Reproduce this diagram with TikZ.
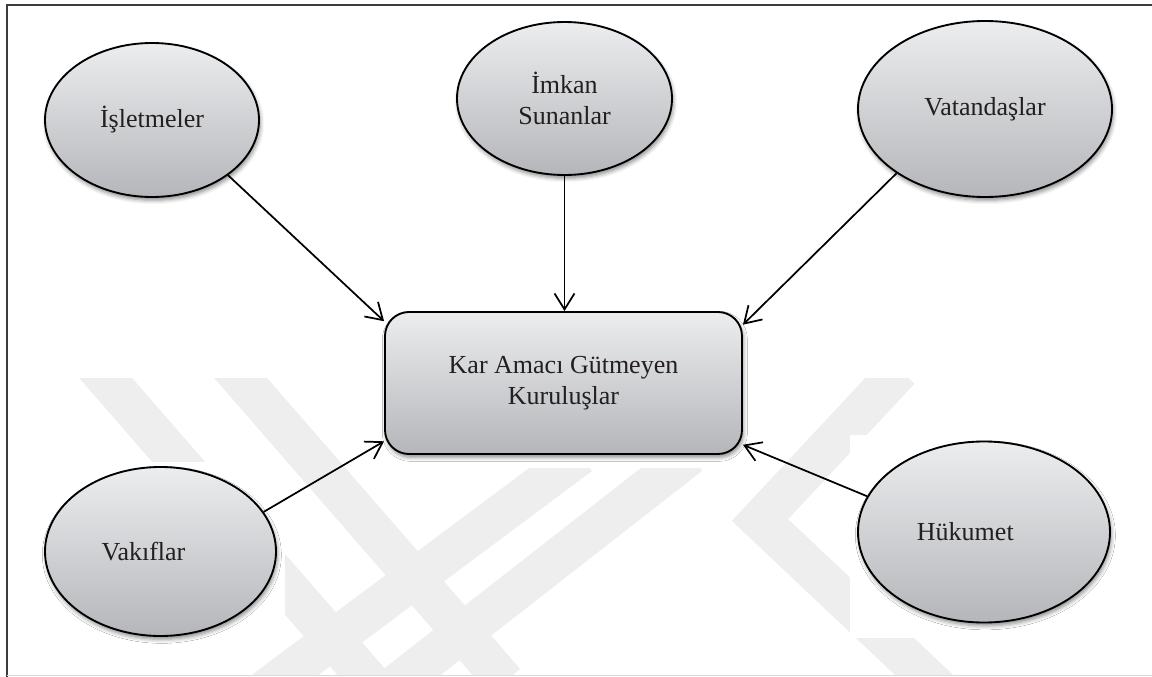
\documentclass[tikz,border=0pt]{standalone}
\usepackage{fontspec}
\setmainfont{Liberation Serif}
\usetikzlibrary{arrows.meta,shapes.geometric,shadows.blur}
\definecolor{inktext}{HTML}{231F20}
\definecolor{shadeTop}{HTML}{ECEDEF}
\definecolor{shadeBot}{HTML}{B4B6B9}
\definecolor{wmark}{HTML}{EEEEEE}
\definecolor{framegray}{HTML}{3C3C3C}
\tikzset{
  softshadow/.style={blur shadow={shadow xshift=1pt, shadow yshift=-2.5pt,
      shadow blur radius=3pt, shadow opacity=45}},
  bubble/.style={ellipse, draw=black, line width=1.4pt,
      top color=shadeTop, bottom color=shadeBot, softshadow,
      font=\fontsize{19.5}{23}\selectfont, text=inktext, align=center,
      inner sep=0pt},
  hub/.style={rectangle, rounded corners=18pt, draw=black, line width=1.4pt,
      top color=shadeTop, bottom color=shadeBot, softshadow,
      font=\fontsize{19.5}{23}\selectfont, text=inktext, align=center,
      minimum width=267.75pt, minimum height=106.5pt, inner sep=0pt},
  feed/.style={draw=black, line width=1.3pt,
      -{Straight Barb[length=12pt,width=15pt]}},
  band/.style={draw=wmark, line width=30pt, line join=miter},
}
\begin{document}
\begin{tikzpicture}[x=0.75pt,y=-0.75pt]
\useasboundingbox (0,0) rectangle (1152,677);

% faint background emblem
\begin{scope}
  \clip (8,378) rectangle (1152,675);
  \draw[band] (90,360) -- (370,682);
  \draw[band] (225,360) -- (505,682);
  \draw[band] (265,690) -- (580,455);
  \draw[band] (389,690) -- (690,455);
  \draw[band] (900,370) -- (760,520) -- (940,690);
\end{scope}
% white panels behind the shapes
\fill[white] (35,462) rectangle (285,650);
\fill[white] (850,435) rectangle (1130,638);
\fill[white] (372,300) rectangle (752,468);

% page frame
\draw[framegray, line width=1.5pt] (7,677) -- (7,5) -- (1152,5);
\draw[black!15, line width=0.75pt] (7,675.5) -- (1152,675.5);

% central organisation
\node[hub] (kar) at (563.5,383) {Kar Amacı Gütmeyen\\Kuruluşlar};

% stakeholders
\node[bubble, minimum width=160.5pt, minimum height=115.5pt] (isl) at (152,120) {İşletmeler};
\node[bubble, minimum width=161.25pt, minimum height=114.75pt] (imk) at (564.5,98.5) {İmkan\\Sunanlar};
\node[bubble, minimum width=190.5pt, minimum height=132pt] (vat) at (985,109) {Vatandaşlar};
\node[bubble, minimum width=173.25pt, minimum height=126.75pt,
      label={[font=\fontsize{19.5}{23}\selectfont, text=inktext, xshift=-12.75pt]center:Vakıflar}] (vak) at (160.5,551.5) {};
\node[bubble, minimum width=189pt, minimum height=135.75pt,
      label={[font=\fontsize{19.5}{23}\selectfont, text=inktext, xshift=-14pt]center:Hükumet}] (huk) at (984,532) {};

% relations
\draw[feed] (isl.-36) -- (kar.161);
\draw[feed] (imk.south) -- (imk.south |- kar.north);
\draw[feed] (vat.216) -- (kar.18.6);
\draw[feed] (vak.21) -- (kar.198.6);
\draw[feed] (huk.163.7) -- (kar.-19.2);
\end{tikzpicture}
\end{document}
